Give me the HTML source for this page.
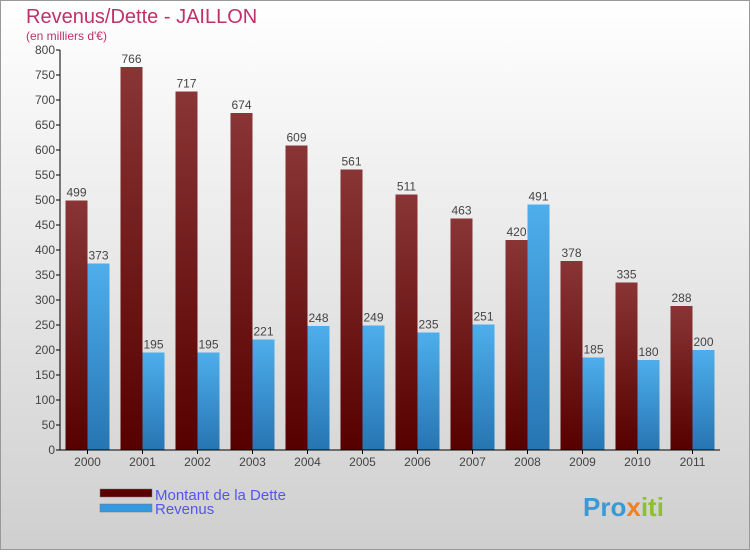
<!DOCTYPE html>
<html><head><meta charset="utf-8"><style>
html,body{margin:0;padding:0}
body{width:750px;height:550px;overflow:hidden;font-family:"Liberation Sans",sans-serif}
</style></head><body>
<svg id="chart" width="750" height="550" xmlns="http://www.w3.org/2000/svg">
<defs>
<linearGradient id="bg" x1="0" y1="0" x2="0" y2="1"><stop offset="0" stop-color="#ffffff"/><stop offset="1" stop-color="#cfcfcf"/></linearGradient>
<linearGradient id="gd" x1="0" y1="0" x2="0" y2="1"><stop offset="0" stop-color="#8a3535"/><stop offset="1" stop-color="#560000"/></linearGradient>
<linearGradient id="gr" x1="0" y1="0" x2="0" y2="1"><stop offset="0" stop-color="#4eaeec"/><stop offset="1" stop-color="#2675b2"/></linearGradient>
</defs>
<rect x="0.5" y="0.5" width="749" height="549" fill="url(#bg)" stroke="#999"/>
<text x="26" y="23" font-size="20" fill="#c0306a">Revenus/Dette - JAILLON</text>
<text x="26" y="40" font-size="12" fill="#c0306a">(en milliers d'€)</text>
<g id="plot"></g>
<rect x="100" y="489" width="52" height="8" fill="#5a0000" stroke="#777" stroke-width="0.5"/>
<rect x="100" y="504" width="52" height="8" fill="#3399e0" stroke="#777" stroke-width="0.5"/>
<text x="155" y="500" font-size="15" fill="#5555ee">Montant de la Dette</text>
<text x="155" y="514" font-size="15" fill="#5555ee">Revenus</text>
<text x="583" y="516" font-size="26" font-weight="bold" fill="#3a9ad8">Pro<tspan fill="#f08020">x</tspan><tspan fill="#8cc030">iti</tspan></text>
</svg>
<script>
const years=["2000","2001","2002","2003","2004","2005","2006","2007","2008","2009","2010","2011"];
const dette=[499,766,717,674,609,561,511,463,420,378,335,288];
const revenus=[373,195,195,221,248,249,235,251,491,185,180,200];
const yTicks=[0,50,100,150,200,250,300,350,400,450,500,550,600,650,700,750,800];
const NS="http://www.w3.org/2000/svg";
const g=document.getElementById('plot');
const x0=60,step=55,y0=450,yMax=800,h=400;
const y=v=>y0-v/yMax*h;
const cx=i=>x0+step/2+step*i;
function mk(t,a){const e=document.createElementNS(NS,t);for(const k in a)e.setAttribute(k,a[k]);g.appendChild(e);return e;}
yTicks.forEach(v=>{
 const t=mk('line',{x1:x0-4,x2:x0,y1:y(v),y2:y(v),stroke:'#000'});
 
 
 const l=mk('text',{x:x0-5,y:y(v)+4,'font-size':12,'text-anchor':'end',fill:'#444'});
 l.textContent=v;
 
 
});
years.forEach((yr,i)=>{
 const c=cx(i);
 const bd=mk('rect',{x:c-22,y:y(dette[i]),width:22,height:y0-y(dette[i]),fill:'url(#gd)'});
 
 
 const br=mk('rect',{x:c,y:y(revenus[i]),width:22,height:y0-y(revenus[i]),fill:'url(#gr)'});
 
 
 const ld=mk('text',{x:c-11,y:y(dette[i])-4,'font-size':12,'text-anchor':'middle',fill:'#444'});
 ld.textContent=dette[i];
 
 
 const lr=mk('text',{x:c+11,y:y(revenus[i])-4,'font-size':12,'text-anchor':'middle',fill:'#444'});
 lr.textContent=revenus[i];
 
 
 const tk=mk('line',{x1:c,x2:c,y1:y0,y2:y0+4,stroke:'#000'});
 
 
 const xl=mk('text',{x:c,y:y0+16,'font-size':12,'text-anchor':'middle',fill:'#444'});
 xl.textContent=yr;
 
 
});
const ya=mk('line',{x1:x0,x2:x0,y1:y(yMax),y2:y0,stroke:'#000'});


const xa=mk('line',{x1:x0,x2:x0+step*12,y1:y0,y2:y0,stroke:'#000'});


</script>
</body></html>
